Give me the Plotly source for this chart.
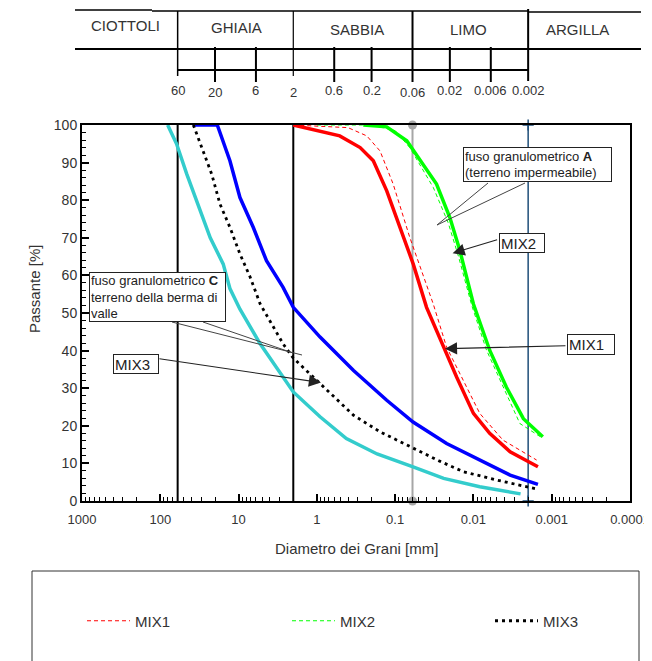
import math
import plotly.graph_objects as go

# page body has an 8px margin: the figure is drawn in a box offset by 8px
OFF = 8
W, H = 644, 653

# ---------------- data ----------------
# grain diameter [mm] / passing [%]
cyan_d = [80.5, 62, 46, 31, 23, 15.7, 12.9, 9.6, 5.3, 2.0, 0.91, 0.42, 0.17, 0.059, 0.024, 0.0083, 0.0025]
cyan_p = [100, 95, 87, 77, 70, 63, 56.5, 51, 41.8, 29, 22.4, 16.6, 12.5, 9.1, 6.0, 3.8, 1.9]

blue_d = [38.5, 18.7, 12.9, 9.6, 6.5, 4.4, 2.7, 2.0, 0.91, 0.34, 0.128, 0.059, 0.022, 0.0083, 0.0034, 0.0015]
blue_p = [100, 100, 90.5, 80.7, 72.8, 63.9, 56.8, 51.5, 43.6, 34.7, 26.8, 21.0, 15.3, 10.9, 6.9, 4.4]

mix3_d = [37.8, 29.6, 22, 17.3, 12.9, 9.6, 7.1, 5.3, 2.7, 2.0, 0.91, 0.34, 0.156, 0.059, 0.027, 0.0135, 0.0051, 0.00156]
mix3_p = [100, 94, 86.9, 79, 72.8, 65.7, 59.5, 52.4, 41.8, 38, 31.2, 22.8, 18.4, 14, 10.6, 7.8, 5.6, 3.2]

red_d = [2.0, 0.51, 0.28, 0.19, 0.128, 0.087, 0.0587, 0.0397, 0.0243, 0.0164, 0.010, 0.0062, 0.0034, 0.0015]
red_p = [100, 97.1, 94, 90.5, 82.5, 72.8, 63, 51.5, 40.9, 33, 23.3, 18, 13.1, 9.1]

mix1_d = [2.0, 0.4, 0.23, 0.156, 0.106, 0.065, 0.0326, 0.022, 0.0135, 0.0083, 0.0042, 0.00156]
mix1_p = [100, 99.3, 97.1, 93.1, 84.3, 70.1, 52.4, 40.9, 32.1, 23.3, 16.2, 10.9]

green_d = [0.255, 0.128, 0.071, 0.0296, 0.020, 0.0149, 0.010, 0.0062, 0.0038, 0.0023, 0.0013]
green_p = [100, 99.5, 95.8, 84.3, 75.4, 66.6, 52.4, 40.1, 30.3, 21.9, 17.1]

mix2_d = [1.0, 0.2, 0.1, 0.065, 0.0326, 0.021, 0.0155, 0.0105, 0.0068, 0.0042, 0.00255, 0.0014]
mix2_p = [100, 100, 98.5, 94, 83.4, 74, 65, 52, 40.1, 30.3, 20.6, 17.1]

band_names = ["CIOTTOLI", "GHIAIA", "SABBIA", "LIMO", "ARGILLA"]
band_limits = [60, 2, 0.06, 0.002]
scale_ticks = [60, 20, 6, 2, 0.6, 0.2, 0.06, 0.02, 0.006, 0.002]
scale_labels = ["60", "20", "6", "2", "0.6", "0.2", "0.06", "0.02", "0.006", "0.002"]
x_tickvals = [1000, 100, 10, 1, 0.1, 0.01, 0.001, 0.0001]
x_ticktext = ["1000", "100", "10", "1", "0.1", "0.01", "0.001", "0.0001"]

# ---------------- helpers ----------------
FONT = "Liberation Sans, Arial, sans-serif"
TXT = "#333333"


def PX(x):
    return (x - OFF) / W


def PY(y):
    return 1 - (y - OFF) / H


fig = go.Figure()

# vertical reference lines in the plot
for v in band_limits[:2]:
    fig.add_trace(go.Scatter(x=[v, v], y=[0, 100], mode="lines",
                             line=dict(color="black", width=2), showlegend=False, hoverinfo="skip"))
fig.add_trace(go.Scatter(x=[band_limits[2]] * 2, y=[0, 100], mode="lines+markers",
                         line=dict(color="#a6a6a6", width=2),
                         marker=dict(color="#a6a6a6", size=9), cliponaxis=False,
                         showlegend=False, hoverinfo="skip"))
fig.add_trace(go.Scatter(x=[band_limits[3]] * 2, y=[0, 100], mode="lines+markers",
                         line=dict(color="#1f4e79", width=1.5),
                         marker=dict(symbol="cross-thin", size=8, line=dict(color="#1f4e79", width=1.5)),
                         cliponaxis=False, showlegend=False, hoverinfo="skip"))

# curves
fig.add_trace(go.Scatter(x=cyan_d, y=cyan_p, mode="lines", line=dict(color="#33cccc", width=3.5),
                         showlegend=False))
fig.add_trace(go.Scatter(x=blue_d, y=blue_p, mode="lines", line=dict(color="#0000ff", width=3.5),
                         showlegend=False))
fig.add_trace(go.Scatter(x=red_d, y=red_p, mode="lines", line=dict(color="#ff0000", width=3.5),
                         showlegend=False))
fig.add_trace(go.Scatter(x=green_d, y=green_p, mode="lines", line=dict(color="#00ff00", width=3.5),
                         showlegend=False))
fig.add_trace(go.Scatter(x=mix1_d, y=mix1_p, mode="lines", name="MIX1", legend="legend",
                         line=dict(color="#ff0000", width=1, dash="4px,3px")))
fig.add_trace(go.Scatter(x=mix2_d, y=mix2_p, mode="lines", name="MIX2", legend="legend2",
                         line=dict(color="#00ff00", width=1, dash="4px,3px")))
fig.add_trace(go.Scatter(x=mix3_d, y=mix3_p, mode="lines", name="MIX3", legend="legend3",
                         line=dict(color="black", width=2.8, dash="3px,4px")))

shapes = []
annotations = []

# ---------------- top classification table ----------------
def hline(x0, x1, y, w):
    shapes.append(dict(type="line", xref="paper", yref="paper", x0=PX(x0), x1=PX(x1),
                       y0=PY(y), y1=PY(y), line=dict(color="black", width=w)))


hline(75, 152, 10, 1.5)
hline(152, 528, 11, 1.5)
hline(528, 641, 12, 1.5)
hline(75, 641, 49, 2)
shapes.append(dict(type="line", xref="x", yref="paper", x0=band_limits[0], x1=band_limits[3],
                   y0=PY(70), y1=PY(70), line=dict(color="black", width=2)))
div_ext = {60: (11, 76, 1.5), 2: (11, 76, 1.2), 0.06: (11, 82, 2), 0.002: (9, 81, 2)}
for v in band_limits:
    y0, y1, w = div_ext[v]
    shapes.append(dict(type="line", xref="x", yref="paper", x0=v, x1=v,
                       y0=PY(y0), y1=PY(y1), line=dict(color="black", width=w)))
for v in scale_ticks:
    if v in band_limits:
        continue
    shapes.append(dict(type="line", xref="x", yref="paper", x0=v, x1=v,
                       y0=PY(47), y1=PY(82), line=dict(color="black", width=2)))
for v, lab in zip(scale_ticks, scale_labels):
    dy = 2 if lab in ("20", "2", "0.06") else 0
    annotations.append(dict(xref="x", yref="paper", x=math.log10(v), y=PY(91 + dy),
                            text=lab, showarrow=False, xanchor="center", yanchor="middle",
                            font=dict(family=FONT, size=13, color=TXT)))
band_px = [(125, 25), (237, 27), (357, 29), (468, 30), (577, 29)]
for name, (bx, by) in zip(band_names, band_px):
    annotations.append(dict(xref="paper", yref="paper", x=PX(bx), y=PY(by), text=name,
                            showarrow=False, xanchor="center", yanchor="middle",
                            font=dict(family=FONT, size=15, color=TXT)))

# ---------------- callouts ----------------
def box(x0, y0, w, h, text, size):
    annotations.append(dict(xref="paper", yref="paper", x=PX(x0), y=PY(y0), xanchor="left",
                            yanchor="top", text=text, showarrow=False, align="left",
                            width=w, height=h, valign="middle",
                            bordercolor="#222", borderwidth=1, borderpad=1, bgcolor="white",
                            font=dict(family=FONT, size=size, color="#222")))


def leader(x0, y0, x1, y1):
    shapes.append(dict(type="line", xref="paper", yref="paper", x0=PX(x0), y0=PY(y0),
                       x1=PX(x1), y1=PY(y1), line=dict(color="#444", width=1)))


def arrow(d, p, ax, ay):
    annotations.append(dict(xref="x", yref="y", x=math.log10(d), y=p, ax=ax, ay=ay, text="",
                            showarrow=True, arrowhead=2, arrowsize=2.2, arrowwidth=1.1,
                            arrowcolor="#222"))


leader(488, 183, 437, 225)
leader(525, 183, 437, 225)
box(463, 147, 145, 31, "fuso granulometrico <b>A</b><br>(terreno impermeabile)", 13)

leader(172, 322, 302, 355)
leader(203, 322, 293, 353)
box(89, 272, 133, 46, "fuso granulometrico <b>C</b><br>terreno della berma di<br>valle", 13)

arrow(0.01845, 65.9, 46, -14)
box(499, 233, 42, 16, "MIX2", 15)
arrow(0.0231, 40.5, 122, -3)
box(567, 334, 44, 17, "MIX1", 15)
arrow(0.887, 31.5, -163, -24)
box(113, 354, 42, 16, "MIX3", 15)

# axis titles
annotations.append(dict(xref="paper", yref="paper", x=PX(34), y=PY(289), text="Passante [%]",
                        textangle=-90, showarrow=False, xanchor="center", yanchor="middle",
                        font=dict(family=FONT, size=15, color=TXT)))
annotations.append(dict(xref="paper", yref="paper", x=PX(356), y=PY(548),
                        text="Diametro dei Grani [mm]", showarrow=False,
                        xanchor="center", yanchor="middle",
                        font=dict(family=FONT, size=15, color=TXT)))

# legend frame
shapes.append(dict(type="rect", xref="paper", yref="paper", x0=PX(32), x1=PX(639),
                   y0=PY(690), y1=PY(571), line=dict(color="#333", width=1)))

ITEMW = 43


def legend_at(x_text):
    return dict(orientation="h", x=PX(x_text - ITEMW - 12), y=PY(621), xanchor="left",
                yanchor="middle", itemwidth=ITEMW,
                bgcolor="rgba(0,0,0,0)", font=dict(family=FONT, size=15, color=TXT))


fig.update_layout(
    width=W, height=H,
    margin=dict(l=0, r=0, t=0, b=0),
    paper_bgcolor="white", plot_bgcolor="white",
    font=dict(family=FONT, size=14, color=TXT),
    shapes=shapes, annotations=annotations,
    showlegend=True,
    legend=legend_at(137), legend2=legend_at(342), legend3=legend_at(545),
    xaxis=dict(type="log", range=[3, -4], domain=[PX(82), PX(630)], automargin=False,
               tickmode="array", tickvals=x_tickvals, ticktext=x_ticktext,
               ticks="inside", ticklen=7, tickwidth=1.5, tickcolor="black",
               ticklabelstandoff=5, ticklabeloverflow="allow",
               minor=dict(ticks="inside", ticklen=4, tickcolor="black", tickwidth=1,
                          dtick="D1", showgrid=False),
               showline=True, linewidth=2, linecolor="black", mirror=True,
               showgrid=False, zeroline=False, tickfont=dict(size=13, color=TXT)),
    yaxis=dict(range=[0, 100], domain=[PY(501), PY(125)], automargin=False,
               tickmode="linear", tick0=0, dtick=10,
               ticks="inside", ticklen=7, tickwidth=1.5, tickcolor="black",
               minor=dict(ticks="inside", ticklen=4, tickcolor="black", tickwidth=1,
                          dtick=2, showgrid=False),
               showline=True, linewidth=2, linecolor="black", mirror=True,
               showgrid=False, zeroline=False, tickfont=dict(size=14, color=TXT)),
)

fig.write_html("out.html")
